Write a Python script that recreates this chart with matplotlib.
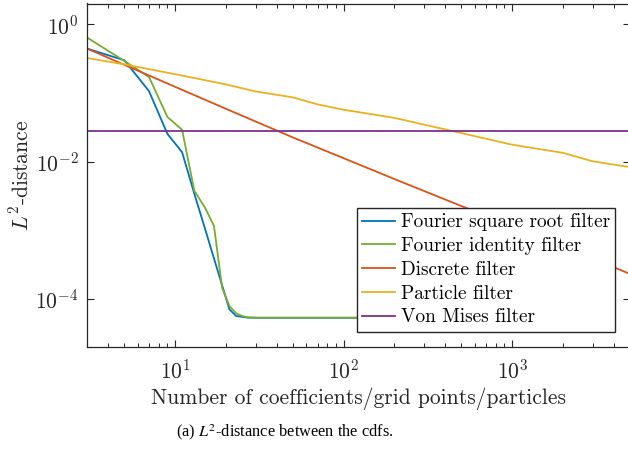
import matplotlib
matplotlib.use("Agg")
import matplotlib.pyplot as plt
from matplotlib.ticker import LogLocator, NullLocator, NullFormatter

# ---- data ----
fourier_n = [3, 5, 7, 9, 11, 13, 15, 17, 19, 21, 23, 25, 27, 31, 41, 51, 101, 201, 501, 1001]
fourier_sqrt = [0.442, 0.298, 0.106, 0.0253, 0.0137, 0.0034, 0.00108, 0.00039, 0.000158,
                0.0000707, 0.0000565, 0.000055, 0.0000535, 0.0000533, 0.0000533, 0.0000533,
                0.0000533, 0.0000533, 0.0000533, 0.0000533]
fourier_ident = [0.64, 0.291, 0.17, 0.0446, 0.029, 0.00375, 0.00216, 0.00116, 0.000146,
                 0.000079, 0.000062, 0.0000565, 0.000054, 0.0000533, 0.0000533, 0.0000533,
                 0.0000533, 0.0000533, 0.0000533, 0.0000533]
discrete_n = [3, 5, 10, 20, 50, 100, 200, 500, 1000, 2000, 5000]
discrete = [0.442, 0.256, 0.1225, 0.0587, 0.02245, 0.0112, 0.00557, 0.00225, 0.00114,
            0.000577, 0.000232]
particle_n = [3, 5, 10, 20, 30, 50, 70, 100, 200, 1000, 2000, 3000, 5000]
particle = [0.322, 0.26, 0.187, 0.133, 0.105, 0.086, 0.068, 0.0568, 0.0433, 0.0176,
            0.0134, 0.0101, 0.0083]
vonmises_n = [3, 5000]
vonmises = [0.0282, 0.0282]

labels = ["Fourier square root filter", "Fourier identity filter", "Discrete filter",
          "Particle filter", "Von Mises filter"]
colors = ["#0072BD", "#77AC30", "#D95319", "#EDB120", "#7E2F8E"]

plt.rcParams["mathtext.fontset"] = "cm"
plt.rcParams["font.family"] = ["cmr10", "DejaVu Sans"]
plt.rcParams["axes.formatter.use_mathtext"] = True

fig = plt.figure(figsize=(6.28, 4.51), dpi=100)
ax = fig.add_axes([87 / 628, 1 - 347 / 451, (630 - 87) / 628, (347 - 3.5) / 451])

series = [(fourier_n, fourier_sqrt), (fourier_n, fourier_ident), (discrete_n, discrete),
          (particle_n, particle), (vonmises_n, vonmises)]
for (xs, ys), lab, c in zip(series, labels, colors):
    ax.plot(xs, ys, color=c, lw=1.3, label=lab)

ax.set_xscale("log")
ax.set_yscale("log")
ax.set_xlim(3, 5000)
ax.set_ylim(2e-5, 2)

ax.yaxis.set_major_locator(LogLocator(base=100))
ax.yaxis.set_minor_locator(NullLocator())
ax.xaxis.set_major_locator(LogLocator(base=10))
ax.xaxis.set_minor_locator(LogLocator(base=10, subs=range(2, 10)))
ax.xaxis.set_minor_formatter(NullFormatter())

for s in ax.spines.values():
    s.set_linewidth(0.9)
    s.set_color("#262626")
ax.tick_params(which="both", direction="in", top=True, right=True, color="#262626",
               labelsize=15.5, labelcolor="#262626")
ax.tick_params(which="major", length=5, width=0.8)
ax.tick_params(which="minor", length=3, width=0.7)
ax.tick_params(axis="x", pad=8)
ax.tick_params(axis="y", pad=6)

ax.set_xlabel("Number of coefficients/grid points/particles", fontsize=15.5, labelpad=4,
              color="#262626")
ax.set_ylabel("$L^2$-distance", fontsize=15.5, labelpad=2, color="#262626")

leg = ax.legend(loc="lower right", bbox_to_anchor=(0.9727, 0.0445), borderaxespad=0,
                fontsize=13.9, frameon=True, fancybox=False, handlelength=1.7,
                handletextpad=0.3, labelspacing=0.3, borderpad=0.28)
leg.get_frame().set_edgecolor("#262626")
leg.get_frame().set_linewidth(1.0)
leg.get_frame().set_alpha(1)

fig.text(285 / 628, 1 - 432 / 451, "(a) $L^2$-distance between the cdfs.",
         family="Liberation Serif", math_fontfamily="stix", fontsize=11.8,
         ha="center", va="center")

fig.savefig("out.png", dpi=100)
